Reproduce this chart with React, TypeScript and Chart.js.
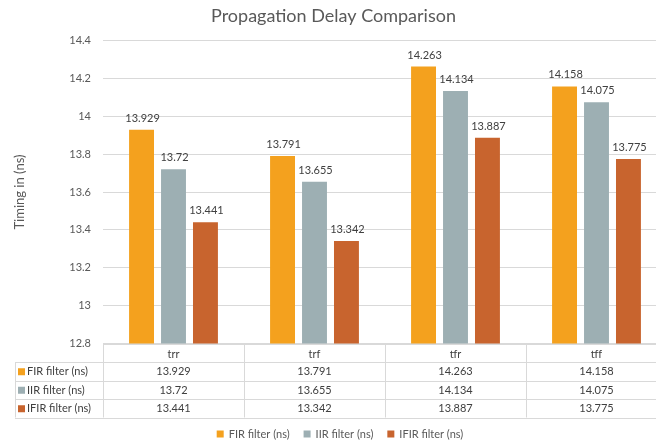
import React, { useEffect, useRef } from 'react';
import { Chart, registerables } from 'chart.js';

Chart.register(...registerables);

const title = 'Propagation Delay Comparison';
const yAxisTitle = 'Timing in (ns)';
const categories = ['trr', 'trf', 'tfr', 'tff'];
const firValues = [13.929, 13.791, 14.263, 14.158];
const iirValues = [13.72, 13.655, 14.134, 14.075];
const ifirValues = [13.441, 13.342, 13.887, 13.775];
const seriesNames = ['FIR filter (ns)', 'IIR filter (ns)', 'IFIR filter (ns)'];
const seriesColors = ['#F4A11E', '#9DAFB3', '#C8642E'];
const yMin = 12.8;
const yMax = 14.4;
const yStep = 0.2;

const FONT = 'Lato, "Open Sans", sans-serif';
const GRID = '#D9D9D9';
const TEXT = '#404040';
const AXIS_TEXT = '#595959';
const ROW_H = 18.5;
const TABLE_LEFT = 15;
const CANVAS_W = 674;
const CANVAS_H = 443;

const dataLabelPlugin = {
  id: 'dataLabels',
  afterDatasetsDraw(chart: any) {
    const ctx = chart.ctx;
    ctx.save();
    ctx.font = `11px ${FONT}`;
    ctx.fillStyle = TEXT;
    ctx.textAlign = 'center';
    ctx.textBaseline = 'bottom';
    chart.data.datasets.forEach((ds: any, di: number) => {
      const meta = chart.getDatasetMeta(di);
      meta.data.forEach((el: any, i: number) => {
        ctx.fillText(String(ds.data[i]), el.x + 1, el.y - 6);
      });
    });
    ctx.restore();
  },
};

const tablePlugin = {
  id: 'dataTable',
  afterDraw(chart: any) {
    const ctx = chart.ctx;
    const area = chart.chartArea;
    const n = chart.data.labels.length;
    const w = (area.right - area.left) / n;
    const top = area.bottom;
    const headerBottom = top + ROW_H;
    const nRows = chart.data.datasets.length;
    const bottom = headerBottom + nRows * ROW_H;
    ctx.save();
    ctx.strokeStyle = GRID;
    ctx.lineWidth = 1;
    ctx.beginPath();
    for (let i = 0; i <= n; i++) {
      const x = Math.round(area.left + i * w) + 0.5;
      ctx.moveTo(x, top);
      ctx.lineTo(x, bottom);
    }
    ctx.moveTo(TABLE_LEFT + 0.5, headerBottom);
    ctx.lineTo(TABLE_LEFT + 0.5, bottom);
    ctx.moveTo(area.left, Math.round(top) + 0.5);
    ctx.lineTo(area.right, Math.round(top) + 0.5);
    for (let r = 0; r <= nRows; r++) {
      const y = Math.round(headerBottom + r * ROW_H) + 0.5;
      ctx.moveTo(TABLE_LEFT, y);
      ctx.lineTo(area.right, y);
    }
    ctx.stroke();

    ctx.font = `11px ${FONT}`;
    ctx.textBaseline = 'middle';
    chart.data.datasets.forEach((ds: any, r: number) => {
      const cy = headerBottom + r * ROW_H + ROW_H / 2 + 0.5;
      ctx.fillStyle = ds.backgroundColor;
      ctx.fillRect(TABLE_LEFT + 3, cy - 3.5, 7, 7);
      ctx.fillStyle = TEXT;
      ctx.textAlign = 'left';
      ctx.fillText(ds.label, TABLE_LEFT + 12, cy);
      ctx.textAlign = 'center';
      ds.data.forEach((v: number, i: number) => {
        ctx.fillText(String(v), area.left + i * w + w / 2, cy);
      });
    });

    // legend
    ctx.font = `11px ${FONT}`;
    const box = 7;
    const gapText = 5;
    const gapItem = 14;
    const widths = chart.data.datasets.map((ds: any) => box + gapText + ctx.measureText(ds.label).width);
    const total = widths.reduce((a: number, b: number) => a + b, 0) + gapItem * (widths.length - 1);
    let x = 340 - total / 2;
    const ly = 434;
    chart.data.datasets.forEach((ds: any, i: number) => {
      ctx.fillStyle = ds.backgroundColor;
      ctx.fillRect(x, ly - 3.5, box, box);
      ctx.fillStyle = AXIS_TEXT;
      ctx.textAlign = 'left';
      ctx.textBaseline = 'middle';
      ctx.fillText(ds.label, x + box + gapText, ly);
      x += widths[i] + gapItem;
    });
    ctx.restore();
  },
};

export default function App() {
  const ref = useRef<HTMLCanvasElement | null>(null);
  useEffect(() => {
    if (!ref.current) return;
    const values = [firValues, iirValues, ifirValues];
    const chart = new Chart(ref.current, {
      type: 'bar',
      data: {
        labels: categories,
        datasets: seriesNames.map((name, i) => ({
          label: name,
          data: values[i],
          backgroundColor: seriesColors[i],
          borderWidth: 0,
          categoryPercentage: 0.68,
          barPercentage: 0.78,
        })),
      },
      options: {
        animation: false,
        responsive: false,
        maintainAspectRatio: false,
        layout: { padding: { left: 0, right: 7, top: 0, bottom: 25.5 } },
        plugins: {
          title: {
            display: true,
            text: title,
            color: AXIS_TEXT,
            font: { family: FONT, size: 18, weight: 'normal' },
            padding: { top: 5, bottom: 14 },
          },
          legend: { display: false },
          tooltip: { enabled: false },
        },
        scales: {
          x: {
            grid: { display: false, drawTicks: false },
            border: { display: true, color: GRID },
            ticks: { color: TEXT, font: { family: FONT, size: 11 }, padding: 4 },
            afterFit: (s: any) => {
              s.height = ROW_H * 4;
            },
          },
          y: {
            min: yMin,
            max: yMax,
            grid: { color: GRID, drawTicks: false },
            border: { display: false },
            ticks: {
              stepSize: yStep,
              color: AXIS_TEXT,
              font: { family: FONT, size: 11 },
              padding: 12,
              callback: (v: any) => String(Number(Number(v).toFixed(1))),
            },
            title: {
              display: true,
              text: yAxisTitle,
              color: AXIS_TEXT,
              font: { family: FONT, size: 13 },
              padding: { top: 12, bottom: 0 },
            },
            afterFit: (s: any) => {
              s.width = 103;
            },
          },
        },
      },
      plugins: [dataLabelPlugin, tablePlugin],
    });
    return () => chart.destroy();
  }, []);
  return (
    <div
      style={{
        position: 'fixed',
        left: 0,
        top: 0,
        width: 656,
        height: CANVAS_H,
        overflow: 'hidden',
        background: '#fff',
      }}
    >
      <canvas
        ref={ref}
        width={CANVAS_W}
        height={CANVAS_H}
        style={{ width: CANVAS_W, height: CANVAS_H, display: 'block' }}
      />
    </div>
  );
}
